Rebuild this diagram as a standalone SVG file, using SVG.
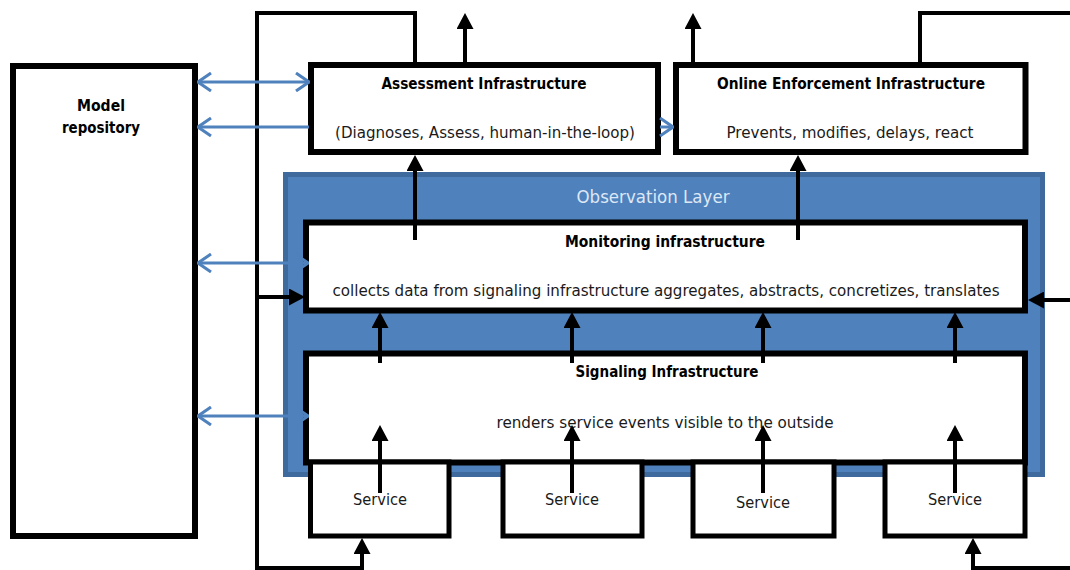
<svg xmlns="http://www.w3.org/2000/svg" width="1070" height="570" viewBox="0 0 1070 570">
<style>
.box{fill:#fff;stroke:#000;stroke-width:6}
.svc{fill:#fff;stroke:#000;stroke-width:5}
.t{font-family:"DejaVu Sans","Liberation Sans",sans-serif;font-size:16px;fill:#1a1a1a;text-anchor:middle}
.b{font-weight:bold;fill:#000;font-size:15.5px}
.blk{fill:none;stroke:#000;stroke-width:4}
.blu{fill:none;stroke:#4F81BD;stroke-width:3}
</style>
<defs>
<marker id="ah" viewBox="0 0 16 17" refX="8" refY="8.5" markerWidth="16" markerHeight="17" markerUnits="userSpaceOnUse" orient="auto">
<path d="M0,0 L16,8.5 L0,17 z" fill="#000"/>
</marker>
<marker id="ch" viewBox="0 0 15 20" refX="14" refY="10" markerWidth="15" markerHeight="20" markerUnits="userSpaceOnUse" orient="auto-start-reverse">
<path d="M1,1 L14,10 L1,19" fill="none" stroke="#4F81BD" stroke-width="3"/>
</marker>
</defs>
<rect x="0" y="0" width="1070" height="570" fill="#fff"/>
<g id="model-repository">
<rect x="13" y="66" width="182" height="470" class="box" stroke-width="5"/>
<text class="t b" x="101" y="111" textLength="48" lengthAdjust="spacingAndGlyphs">Model</text>
<text class="t b" x="101" y="133" textLength="78" lengthAdjust="spacingAndGlyphs">repository</text>
</g>
<g id="observation-layer">
<rect x="285.5" y="174.5" width="757" height="300" fill="#4F81BD" stroke="#3F6A9E" stroke-width="5"/>
<text class="t" x="653" y="203" style="fill:#dde8f5;font-size:17px" textLength="153" lengthAdjust="spacingAndGlyphs">Observation Layer</text>
</g>
<g id="assessment">
<rect x="311" y="65" width="347" height="87" class="box"/>
<text class="t b" x="484" y="89" textLength="205" lengthAdjust="spacingAndGlyphs">Assessment Infrastructure</text>
<text class="t" x="485" y="138" textLength="300" lengthAdjust="spacingAndGlyphs">(Diagnoses, Assess, human-in-the-loop)</text>
</g>
<g id="enforcement">
<rect x="676" y="65" width="349.5" height="87" class="box"/>
<text class="t b" x="851" y="89" textLength="268" lengthAdjust="spacingAndGlyphs">Online Enforcement Infrastructure</text>
<text class="t" x="850" y="138" textLength="247" lengthAdjust="spacingAndGlyphs">Prevents, modifies, delays, react</text>
</g>
<g id="monitoring">
<rect x="306" y="222.5" width="719" height="88" class="box"/>
<text class="t b" x="665" y="247" textLength="200" lengthAdjust="spacingAndGlyphs">Monitoring infrastructure</text>
<text class="t" x="666" y="296" textLength="667" lengthAdjust="spacingAndGlyphs">collects data from signaling infrastructure aggregates, abstracts, concretizes, translates</text>
</g>
<g id="signaling">
<rect x="306" y="353.5" width="719" height="109" class="box"/>
<text class="t b" x="667" y="377" textLength="183" lengthAdjust="spacingAndGlyphs">Signaling Infrastructure</text>
<text class="t" x="665" y="428" textLength="337" lengthAdjust="spacingAndGlyphs">renders service events visible to the outside</text>
</g>
<g id="service-1">
<rect x="310.5" y="462" width="138.5" height="74" class="svc"/>
<text class="t" x="380" y="505" textLength="54" lengthAdjust="spacingAndGlyphs">Service</text>
</g>
<g id="service-2">
<rect x="503" y="462" width="139" height="74" class="svc"/>
<text class="t" x="572" y="505" textLength="54" lengthAdjust="spacingAndGlyphs">Service</text>
</g>
<g id="service-3">
<rect x="693" y="462" width="141" height="74" class="svc"/>
<text class="t" x="763" y="508" textLength="54" lengthAdjust="spacingAndGlyphs">Service</text>
</g>
<g id="service-4">
<rect x="885" y="462" width="140" height="74" class="svc"/>
<text class="t" x="955" y="505" textLength="54" lengthAdjust="spacingAndGlyphs">Service</text>
</g>
<g id="connectors">
<line class="blk" x1="465" y1="65" x2="465" y2="21" marker-end="url(#ah)"/>
<line class="blk" x1="693" y1="65" x2="693" y2="21" marker-end="url(#ah)"/>
<polyline class="blk" points="415,65 415,13 257,13 257,568 362,568 362,546" marker-end="url(#ah)"/>
<line class="blk" x1="257" y1="297" x2="297" y2="297" marker-end="url(#ah)"/>
<polyline class="blk" points="920,65 920,13 1070,13"/>
<polyline class="blk" points="1070,568 973,568 973,546" marker-end="url(#ah)"/>
<line class="blk" x1="1070" y1="300" x2="1036" y2="300" marker-end="url(#ah)"/>
<line class="blk" x1="415" y1="240" x2="415" y2="163" marker-end="url(#ah)"/>
<line class="blk" x1="798" y1="240" x2="798" y2="163" marker-end="url(#ah)"/>
<line class="blk" x1="380" y1="363" x2="380" y2="320" marker-end="url(#ah)"/>
<line class="blk" x1="572" y1="363" x2="572" y2="320" marker-end="url(#ah)"/>
<line class="blk" x1="763" y1="363" x2="763" y2="320" marker-end="url(#ah)"/>
<line class="blk" x1="955" y1="363" x2="955" y2="320" marker-end="url(#ah)"/>
<line class="blk" x1="380" y1="493" x2="380" y2="433" marker-end="url(#ah)"/>
<line class="blk" x1="572" y1="493" x2="572" y2="433" marker-end="url(#ah)"/>
<line class="blk" x1="763" y1="493" x2="763" y2="433" marker-end="url(#ah)"/>
<line class="blk" x1="955" y1="493" x2="955" y2="433" marker-end="url(#ah)"/>
<line class="blu" x1="198" y1="82" x2="309" y2="82" marker-start="url(#ch)" marker-end="url(#ch)"/>
<line class="blu" x1="309" y1="127" x2="198" y2="127" marker-end="url(#ch)"/>
<line class="blu" x1="660" y1="127" x2="673" y2="127" marker-end="url(#ch)"/>
<line class="blu" x1="198" y1="263" x2="308" y2="263" marker-start="url(#ch)" marker-end="url(#ch)"/>
<line class="blu" x1="198" y1="416" x2="308" y2="416" marker-start="url(#ch)" marker-end="url(#ch)"/>
</g>
</svg>
